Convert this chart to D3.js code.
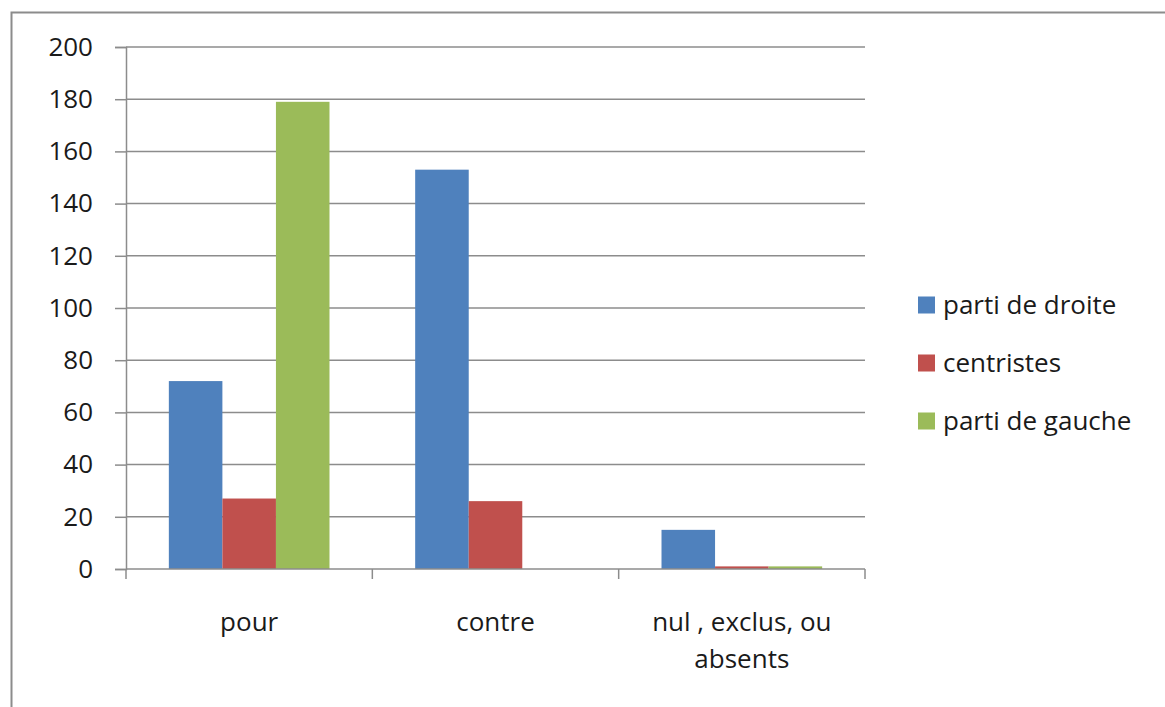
<!DOCTYPE html>
<html>
<head>
<meta charset="utf-8">
<script src="https://cdn.jsdelivr.net/npm/d3@7"></script>
<style>
  body { margin: 0; background: #fff; }
  svg text { font-family: "Open Sans", sans-serif; fill: #1a1a1a; }
</style>
</head>
<body>
<svg id="chart" width="1165" height="707"></svg>
<script>
// donnees
var categories = ["pour", "contre", "nul , exclus, ou absents"];
var series = ["parti de droite", "centristes", "parti de gauche"];
var droite = [72, 153, 15];
var centristes = [27, 26, 1];
var gauche = [179, 0, 1];
var yTicks = [0, 20, 40, 60, 80, 100, 120, 140, 160, 180, 200];

var cores = ["#4F81BD", "#C0504D", "#9BBB59"];
var valores = [droite, centristes, gauche];

var svg = d3.select("#chart");

// cadre
svg.append("rect")
    .attr("x", 11.5).attr("y", 12.5)
    .attr("width", 1200).attr("height", 800)
    .attr("fill", "none")
    .attr("stroke", "#8c8c8c")
    .attr("stroke-width", 2);

var gauchePx = 126, droitePx = 865, hautPx = 47, basPx = 569;

var x = d3.scaleBand().domain(categories).range([gauchePx, droitePx]).paddingInner(0).paddingOuter(0);
var xs = d3.scaleBand().domain(series).range([0, x.bandwidth()]).paddingInner(0).paddingOuter(0.8);
var y = d3.scaleLinear().domain([0, 200]).range([basPx, hautPx]);

// grille
svg.append("g").selectAll("line")
    .data(yTicks.slice(1))
    .enter()
    .append("line")
    .attr("x1", gauchePx).attr("x2", droitePx)
    .attr("y1", function (d) { return y(d); })
    .attr("y2", function (d) { return y(d); })
    .attr("stroke", "#8c8c8c")
    .attr("stroke-width", 1.5);

// barres
categories.forEach(function (cat, ci) {
    series.forEach(function (s, si) {
        var v = valores[si][ci];
        if (v <= 0) return;
        svg.append("rect")
            .attr("x", x(cat) + xs(s))
            .attr("y", y(v))
            .attr("width", xs.bandwidth())
            .attr("height", y(0) - y(v))
            .style("fill", cores[si]);
    });
});

// axe y
var yAxis = svg.append("g")
    .attr("transform", "translate(" + gauchePx + ",0)")
    .call(d3.axisLeft(y).tickValues(yTicks).tickSize(11).tickPadding(22));
yAxis.select(".domain").attr("stroke", "#8c8c8c").attr("stroke-width", 1.5);
yAxis.selectAll(".tick line").attr("stroke", "#8c8c8c").attr("stroke-width", 1.5);
yAxis.selectAll(".tick text")
    .style("font-family", "'Open Sans', sans-serif")
    .style("font-size", "26px")
    .attr("fill", "#1a1a1a");

// axe x
var xTickPos = d3.range(categories.length + 1).map(function (i) { return gauchePx + i * x.step(); });
svg.append("line")
    .attr("x1", gauchePx).attr("x2", droitePx)
    .attr("y1", basPx).attr("y2", basPx)
    .attr("stroke", "#8c8c8c").attr("stroke-width", 1.5);
svg.append("g").selectAll("line")
    .data(xTickPos)
    .enter()
    .append("line")
    .attr("x1", function (d) { return d; })
    .attr("x2", function (d) { return d; })
    .attr("y1", basPx).attr("y2", basPx + 10)
    .attr("stroke", "#8c8c8c").attr("stroke-width", 1.5);

var xLabels = [["pour"], ["contre"], ["nul , exclus, ou", "absents"]];
categories.forEach(function (cat, i) {
    var t = svg.append("text")
        .attr("x", x(cat) + x.bandwidth() / 2)
        .attr("y", 631)
        .attr("text-anchor", "middle")
        .style("font-size", "26px");
    xLabels[i].forEach(function (line, li) {
        t.append("tspan")
            .attr("x", x(cat) + x.bandwidth() / 2)
            .attr("dy", li === 0 ? 0 : 37)
            .text(line);
    });
});

// legende
var leg = svg.append("g").selectAll("g")
    .data(series)
    .enter()
    .append("g")
    .attr("transform", function (d, i) { return "translate(918," + (305 + i * 58) + ")"; });
leg.append("rect")
    .attr("x", 0).attr("y", -8.5)
    .attr("width", 17).attr("height", 17)
    .style("fill", function (d, i) { return cores[i]; });
leg.append("text")
    .attr("x", 25).attr("y", 0)
    .attr("dy", "0.35em")
    .style("font-size", "26px")
    .text(function (d) { return d; });
</script>
</body>
</html>
